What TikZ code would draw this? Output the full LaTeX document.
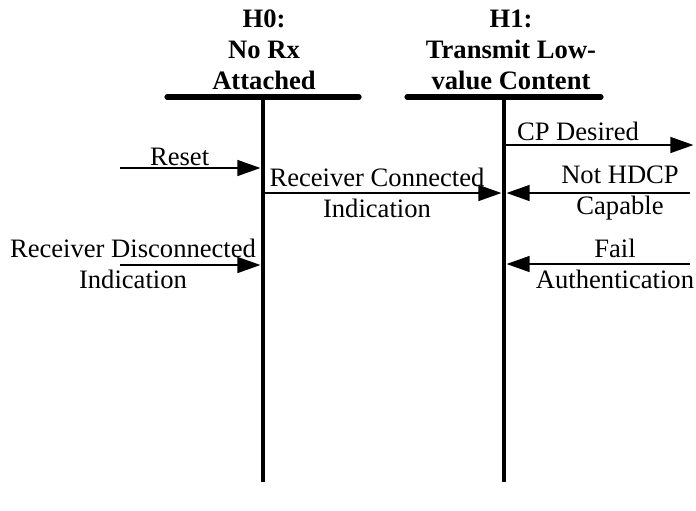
\documentclass[tikz,border=0pt]{standalone}
\usepackage{fontspec}
\setmainfont{Liberation Serif}
\usetikzlibrary{arrows.meta}
\tikzset{
  statebar/.style={line width=2.6pt,line cap=round},
  stateline/.style={line width=2pt},
  event/.style={-{Triangle[length=11.5pt,width=8pt]},line width=0.65pt,shorten >=0.8pt},
  statename/.style={font=\fontsize{13.3}{15.5}\selectfont\bfseries,align=center,anchor=south,inner sep=1pt},
  eventname/.style={align=center,inner sep=1pt}
}

\begin{document}
\begin{tikzpicture}[x=0.5pt,y=-0.5pt,font=\fontsize{13.3}{15.5}\selectfont]
\useasboundingbox (0,0) rectangle (696,510);
%H0 STATE
\coordinate (h0left) at (167,97);
\coordinate (h0right) at (359,97);
\coordinate (h0top) at (263,97);
\coordinate (h0bot) at (263,482);
\draw [statebar] (h0left) -- (h0right);
\draw [stateline] (h0top) -- (h0bot);
\node [statename] (h0name) at (264,92) {H0:\\No Rx\\Attached};
%H1 STATE
\coordinate (h1left) at (407,97);
\coordinate (h1right) at (601,97);
\coordinate (h1top) at (504,97);
\coordinate (h1bot) at (504,482);
\draw [statebar] (h1left) -- (h1right);
\draw [stateline] (h1top) -- (h1bot);
\node [statename] (h1name) at (511,92) {H1:\\Transmit Low-\\value Content};
%INTO H0
\coordinate (resetin) at (120,168);
\coordinate (reseth0) at (262,168);
\draw [event] (resetin) -- (reseth0) node [pos=0.42,above,eventname] (resetlabel) {Reset};
\coordinate (discin) at (120,265);
\coordinate (disch0) at (262,265);
\draw [event] (discin) -- (disch0);
\node [eventname] (disclabel) at (133,264) {Receiver Disconnected\\Indication};
%H0 TO H1
\coordinate (connh0) at (263,193);
\coordinate (connh1) at (503,193);
\draw [event] (connh0) -- (connh1);
\node [eventname] (connlabel) at (377,193) {Receiver Connected\\Indication};
%OUT OF H1
\coordinate (cph1) at (504,145);
\coordinate (cpout) at (695,145);
\draw [event] (cph1) -- (cpout);
\node [eventname,above] (cplabel) at (578,143) {CP Desired};
%INTO H1
\coordinate (hdcpin) at (690,193);
\coordinate (hdcph1) at (505,193);
\draw [event] (hdcpin) -- (hdcph1);
\node [eventname] (hdcplabel) at (620,193) {Not HDCP\\Capable};
\coordinate (failin) at (690,264);
\coordinate (failh1) at (505,264);
\draw [event] (failin) -- (failh1);
\node [eventname] (faillabel) at (615,264) {Fail\\Authentication};
\end{tikzpicture}
\end{document}
